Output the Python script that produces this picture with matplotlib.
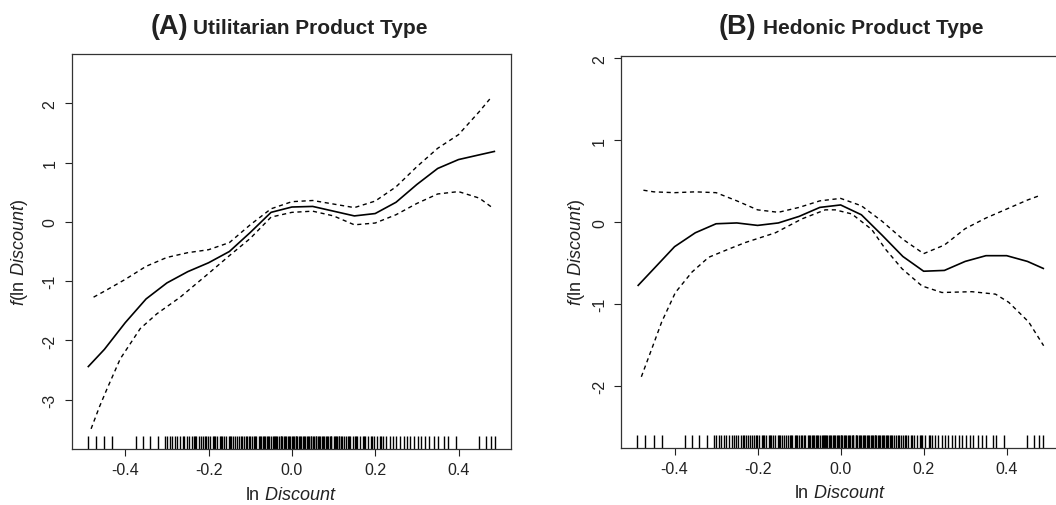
import matplotlib
matplotlib.use("Agg")
import matplotlib.pyplot as plt

plt.rcParams['font.family'] = ['Liberation Sans', 'DejaVu Sans']
plt.rcParams['mathtext.fontset'] = 'custom'
plt.rcParams['mathtext.rm'] = 'Liberation Sans'
plt.rcParams['mathtext.it'] = 'Liberation Sans:italic'

# ---------------- data ----------------
# Panel A: Utilitarian
a_fit_x = [-0.49, -0.45, -0.40, -0.35, -0.30, -0.25, -0.20, -0.15, -0.10, -0.05, 0.00,
           0.05, 0.10, 0.15, 0.20, 0.25, 0.30, 0.35, 0.40, 0.45, 0.488]
a_fit_y = [-2.45, -2.15, -1.70, -1.30, -1.03, -0.84, -0.69, -0.50, -0.18, 0.16, 0.25,
           0.26, 0.18, 0.10, 0.14, 0.33, 0.63, 0.90, 1.05, 1.13, 1.19]
a_up_x = [-0.476, -0.45, -0.40, -0.35, -0.30, -0.25, -0.20, -0.15, -0.10, -0.05, 0.00,
          0.05, 0.10, 0.15, 0.20, 0.25, 0.30, 0.35, 0.40, 0.45, 0.475]
a_up_y = [-1.27, -1.17, -0.97, -0.75, -0.60, -0.52, -0.47, -0.35, -0.05, 0.22, 0.34,
          0.36, 0.30, 0.24, 0.35, 0.59, 0.93, 1.24, 1.47, 1.86, 2.07]
a_lo_x = [-0.482, -0.462, -0.444, -0.412, -0.364, -0.324, -0.268, -0.20, -0.15, -0.10,
          -0.05, 0.00, 0.05, 0.10, 0.15, 0.20, 0.25, 0.30, 0.35, 0.40, 0.45, 0.481]
a_lo_y = [-3.49, -3.12, -2.82, -2.31, -1.80, -1.55, -1.27, -0.87, -0.57, -0.28,
          0.08, 0.16, 0.18, 0.10, -0.05, -0.02, 0.12, 0.31, 0.47, 0.51, 0.40, 0.24]

# Panel B: Hedonic
b_fit_x = [-0.489, -0.45, -0.40, -0.35, -0.30, -0.25, -0.20, -0.15, -0.10, -0.05, 0.00,
           0.05, 0.10, 0.15, 0.20, 0.25, 0.30, 0.35, 0.40, 0.45, 0.49]
b_fit_y = [-0.78, -0.57, -0.30, -0.13, -0.02, -0.01, -0.04, -0.01, 0.07, 0.18, 0.21,
           0.09, -0.16, -0.42, -0.60, -0.59, -0.48, -0.41, -0.41, -0.48, -0.57]
b_up_x = [-0.475, -0.45, -0.40, -0.35, -0.30, -0.25, -0.20, -0.15, -0.10, -0.05, 0.00,
          0.05, 0.10, 0.15, 0.20, 0.25, 0.30, 0.35, 0.40, 0.45, 0.477]
b_up_y = [0.39, 0.37, 0.36, 0.37, 0.36, 0.26, 0.15, 0.12, 0.18, 0.26, 0.29,
          0.20, 0.01, -0.21, -0.385, -0.28, -0.08, 0.05, 0.16, 0.27, 0.32]
b_lo_x = [-0.480, -0.455, -0.431, -0.398, -0.358, -0.318, -0.27, -0.23, -0.157, -0.093,
          -0.037, -0.013, 0.027, 0.075, 0.108, 0.148, 0.196, 0.244, 0.316, 0.373,
          0.405, 0.453, 0.489]
b_lo_y = [-1.89, -1.55, -1.22, -0.86, -0.61, -0.43, -0.33, -0.25, -0.13, 0.04,
          0.15, 0.15, 0.10, -0.09, -0.33, -0.57, -0.78, -0.86, -0.85, -0.88,
          -0.98, -1.22, -1.51]

# observed ln Discount values (rug)
rug_x = [-0.490, -0.470, -0.450, -0.431, -0.375, -0.357, -0.340, -0.322, -0.305, -0.299,
         -0.293, -0.287, -0.280, -0.275, -0.268, -0.262, -0.258, -0.251, -0.246, -0.240,
         -0.236, -0.229, -0.222, -0.218, -0.213, -0.205, -0.201, -0.196, -0.190, -0.184,
         -0.180, -0.173, -0.168, -0.163, -0.157, -0.152, -0.148, -0.141, -0.137, -0.131,
         -0.126, -0.120, -0.116, -0.110, -0.104, -0.100, -0.095, -0.089, -0.085, -0.079,
         -0.074, -0.070, -0.064, -0.060, -0.055, -0.050, -0.046, -0.041, -0.037, -0.032,
         -0.027, -0.023, -0.018, -0.013, -0.009, -0.004, 0.000, 0.004, 0.009, 0.013,
         0.018, 0.022, 0.027, 0.031, 0.036, 0.040, 0.045, 0.050, 0.054, 0.059,
         0.063, 0.068, 0.072, 0.077, 0.082, 0.086, 0.091, 0.095, 0.100, 0.105,
         0.109, 0.114, 0.119, 0.124, 0.129, 0.134, 0.140, 0.146, 0.151, 0.157,
         0.163, 0.170, 0.176, 0.183, 0.190, 0.197, 0.204, 0.212, 0.219, 0.227,
         0.235, 0.243, 0.251, 0.259, 0.268, 0.276, 0.284, 0.293, 0.302, 0.311,
         0.320, 0.330, 0.340, 0.350, 0.366, 0.374, 0.394, 0.450, 0.466, 0.478, 0.488,
         -0.233, -0.209, -0.187, -0.171, -0.145, -0.123, -0.107, -0.092, -0.077, -0.067,
         -0.057, -0.043, -0.035, -0.025, -0.016, -0.006, 0.002, 0.011, 0.020, 0.029,
         0.038, 0.047, 0.057, 0.066, 0.075, 0.084, 0.093, 0.103, 0.112, 0.121,
         0.137, 0.154, 0.173, 0.193, 0.215]

x_ticks = [-0.4, -0.2, 0.0, 0.2, 0.4]
x_ticklabels = ['-0.4', '-0.2', '0.0', '0.2', '0.4']
a_yticks = [-3, -2, -1, 0, 1, 2]
b_yticks = [-2, -1, 0, 1, 2]

title_a = ('(A)', 'Utilitarian Product Type')
title_b = ('(B)', 'Hedonic Product Type')
xlabel = r'ln $\mathit{Discount}$'
ylabel = r'$\mathit{f}$(ln $\mathit{Discount}$)'

# ---------------- figure ----------------
W, H = 1056, 506
fig = plt.figure(figsize=(W / 100, H / 100), dpi=100)


def fx(px):
    return px / W


def fy(py):
    return 1 - py / H


axA = fig.add_axes([fx(71.5), fy(450), fx(511) - fx(71.5), fy(55) - fy(450)])
axB = fig.add_axes([fx(621), fy(449), fx(1059) - fx(621), fy(57) - fy(449)])


def style(ax, fit_x, fit_y, up_x, up_y, lo_x, lo_y, yticks, ylim, ylab_x):
    ax.plot(fit_x, fit_y, color='black', lw=1.2, solid_capstyle='butt')
    ax.plot(up_x, up_y, color='black', lw=1.0, dashes=(3.0, 2.6))
    ax.plot(lo_x, lo_y, color='black', lw=1.0, dashes=(3.0, 2.6))
    ax.vlines(rug_x, 0, 0.034, transform=ax.get_xaxis_transform(),
              color='black', lw=1.0)
    ax.set_xlim(-0.529, 0.526)
    ax.set_ylim(*ylim)
    ax.set_xticks(x_ticks)
    ax.set_xticklabels(x_ticklabels)
    ax.set_yticks(yticks)
    ax.set_yticklabels([str(v) for v in yticks], rotation=90, va='center')
    ax.tick_params(direction='out', length=5, width=0.8, labelsize=11.5,
                   colors='#222222', pad=4.5)
    ax.tick_params(axis='y', pad=5)
    for s in ax.spines.values():
        s.set_linewidth(0.9)
        s.set_color('#333333')
    ax.set_xlabel(xlabel, fontsize=13, color='#222222')
    ax.xaxis.set_label_coords(0.5, -0.093)
    ax.set_ylabel(ylabel, fontsize=13, color='#222222')
    ax.yaxis.set_label_coords(ylab_x, 0.5)


style(axA, a_fit_x, a_fit_y, a_up_x, a_up_y, a_lo_x, a_lo_y,
      a_yticks, (-3.83, 2.83), -0.094)
style(axB, b_fit_x, b_fit_y, b_up_x, b_up_y, b_lo_x, b_lo_y,
      b_yticks, (-2.76, 2.03), -0.078)

# titles (two-size bold text)
fig.text(fx(188), fy(34), title_a[0], ha='right', va='baseline',
         fontsize=19.5, fontweight='bold', color='#222222')
fig.text(fx(193), fy(34), title_a[1], ha='left', va='baseline',
         fontsize=15, fontweight='bold', color='#222222')
fig.text(fx(756), fy(34), title_b[0], ha='right', va='baseline',
         fontsize=19.5, fontweight='bold', color='#222222')
fig.text(fx(763), fy(34), title_b[1], ha='left', va='baseline',
         fontsize=15, fontweight='bold', color='#222222')

fig.savefig('out.png', dpi=100)
